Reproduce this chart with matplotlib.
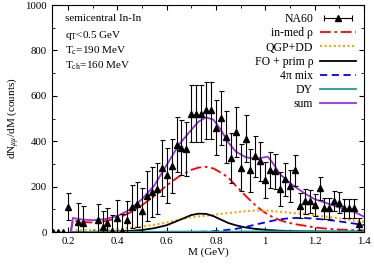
import matplotlib
matplotlib.use('Agg')
import matplotlib.pyplot as plt
from matplotlib.ticker import MultipleLocator
from matplotlib.lines import Line2D
from matplotlib.legend_handler import HandlerLine2D, HandlerTuple

plt.rcParams['font.family'] = ['Liberation Serif', 'DejaVu Serif']
plt.rcParams['mathtext.fontset'] = 'stix'

# NA60 data (M in GeV, counts, error)
na60_m = [0.14, 0.16, 0.18, 0.20, 0.24, 0.26, 0.32, 0.34, 0.36, 0.38, 0.40, 0.42, 0.44,
          0.46, 0.48, 0.50, 0.52, 0.54, 0.56, 0.58, 0.60, 0.62, 0.64, 0.66, 0.68, 0.70,
          0.72, 0.74, 0.76, 0.78, 0.80, 0.82, 0.84, 0.86, 0.88, 0.90, 0.92, 0.94, 0.96,
          0.98, 1.00, 1.02, 1.04, 1.06, 1.08, 1.10, 1.12, 1.14, 1.16, 1.18, 1.20, 1.22,
          1.24, 1.26, 1.28, 1.30, 1.32, 1.34, 1.36, 1.38]
na60_y = [0, 0, 0, 112, 45, 40, 52, 21, 41, 3, 62, 4, 55,
          111, 122, 92, 160, 175, 190, 282, 250, 290, 385, 372, 365, 522,
          522, 522, 536, 536, 460, 503, 418, 328, 441, 284, 412, 272, 333,
          312, 228, 274, 268, 188, 233, 203, 272, 116, 136, 135, 119, 193,
          104, 104, 136, 130, 104, 105, 104, 35]
na60_err = [0, 0, 0, 58, 82, 76, 72, 72, 66, 70, 80, 75, 80,
            95, 100, 100, 110, 110, 112, 122, 120, 118, 122, 120, 118, 125,
            125, 125, 125, 125, 120, 118, 115, 110, 110, 105, 105, 95, 90,
            85, 80, 80, 78, 75, 72, 70, 68, 55, 55, 52, 50, 50,
            45, 45, 45, 45, 42, 42, 40, 25]

# model curves
m_grid = [0.211, 0.22, 0.25, 0.30, 0.35, 0.40, 0.45, 0.50, 0.55, 0.60, 0.65, 0.70, 0.73,
          0.76, 0.79, 0.82, 0.85, 0.88, 0.92, 0.96, 0.99, 1.01, 1.03, 1.06, 1.09, 1.12,
          1.16, 1.20, 1.25, 1.30, 1.35, 1.40]
inmed_rho = [0, 52, 45, 42, 48, 60, 85, 118, 158, 205, 245, 274, 284,
             287, 280, 262, 240, 205, 160, 118, 92, 78, 66, 52, 42, 35,
             28, 20, 15, 11, 9, 7]
qgp_dd = [8, 8, 8, 9, 11, 14, 18, 24, 32, 42, 55, 65, 69,
          72, 76, 80, 84, 87, 92, 95, 95, 94, 92, 89, 86, 83,
          80, 74, 67, 60, 52, 45]
fo_prim = [0, 0, 0, 1, 2, 3, 5, 9, 17, 30, 52, 75, 81,
           80, 70, 55, 40, 30, 20, 14, 11, 9, 8, 6, 5, 4,
           3, 3, 2, 2, 1, 1]
mix_4pi = [0, 0, 0, 0, 0, 0, 0, 0, 0, 0, 0, 0, 1,
           2, 4, 6, 10, 14, 22, 33, 40, 45, 50, 56, 60, 62,
           62, 59, 54, 47, 39, 31]
dy = [0, 0, 0, 1, 1, 1, 1, 1, 1, 2, 2, 2, 2,
      2, 2, 2, 2, 2, 3, 3, 3, 3, 3, 3, 3, 3,
      3, 3, 3, 3, 4, 4]
total = [0, 62, 56, 52, 57, 70, 98, 145, 205, 295, 385, 450, 487,
         505, 495, 450, 395, 355, 330, 322, 328, 332, 305, 255, 225, 200,
         170, 145, 127, 108, 95, 68]

fig = plt.figure(figsize=(3.74, 2.64), dpi=100)
ax = fig.add_axes([0.139, 0.121, 0.834, 0.860])

l1, = ax.plot(m_grid, inmed_rho, color='#ff0000', ls=(0, (6, 2, 1.5, 2)), lw=1.3)
l2, = ax.plot(m_grid, qgp_dd, color='#ffa500', ls=(0, (1, 1.2)), lw=1.5)
l3, = ax.plot(m_grid, fo_prim, color='black', ls='-', lw=1.3)
l4, = ax.plot(m_grid, mix_4pi, color='#0000ff', ls=(0, (4, 2.5)), lw=1.3)
l5, = ax.plot(m_grid, dy, color='#1a9e9e', ls='-', lw=1.3)
l6, = ax.plot(m_grid, total, color='#9a30e0', ls='-', lw=1.3)
ax.errorbar(na60_m, na60_y, yerr=na60_err, fmt='^', color='black', ms=4.5,
            elinewidth=0.8, capsize=1.8, capthick=0.8, lw=0.8)

ax.set_xlim(0.135, 1.4)
ax.set_ylim(0, 1000)
ax.xaxis.set_major_locator(MultipleLocator(0.2))
ax.xaxis.set_minor_locator(MultipleLocator(0.1))
ax.yaxis.set_major_locator(MultipleLocator(200))
ax.yaxis.set_minor_locator(MultipleLocator(100))
ax.tick_params(which='both', direction='in', top=True, right=True, labelsize=7.8)
ax.tick_params(which='major', length=3.5)
ax.tick_params(which='minor', length=2)
ax.set_xticks([0.2, 0.4, 0.6, 0.8, 1.0, 1.2, 1.4])
ax.set_xticklabels(['0.2', '0.4', '0.6', '0.8', '1', '1.2', '1.4'])

ax.set_xlabel('M (GeV)', fontsize=8, labelpad=1)
ax.set_ylabel(r'dN$_{\mu\mu}$/dM (counts)', fontsize=8, labelpad=3)

tx = 0.042
ax.text(tx, 0.96, 'semicentral In-In', transform=ax.transAxes, fontsize=8, va='top')
ax.text(tx, 0.893, r'q$_{\rm T}$<0.5 GeV', transform=ax.transAxes, fontsize=8, va='top')
ax.text(tx, 0.826, r'T$_{\rm c}$=190 MeV', transform=ax.transAxes, fontsize=8, va='top')
ax.text(tx, 0.759, r'T$_{\rm ch}$=160 MeV', transform=ax.transAxes, fontsize=8, va='top')

# NA60 legend handle: horizontal bar with caps and a triangle in the middle
caps = Line2D([], [], color='black', lw=0.8, marker='|', ms=4, mew=0.8)
tri = Line2D([], [], color='black', ls='none', marker='^', ms=4.5)
na60_handle = (caps, tri)

ax.legend([na60_handle, l1, l2, l3, l4, l5, l6],
          ['NA60', 'in-med ρ', 'QGP+DD', 'FO + prim ρ', '4π mix', 'DY', 'sum'],
          loc='upper right', markerfirst=False, frameon=False, fontsize=8.5,
          handlelength=3.0, labelspacing=0.18, borderaxespad=0.3, handletextpad=0.6,
          handler_map={caps: HandlerLine2D(numpoints=2), tri: HandlerLine2D(numpoints=1),
                       na60_handle: HandlerTuple(ndivide=1, pad=0)})

fig.savefig('out.png', dpi=100)
